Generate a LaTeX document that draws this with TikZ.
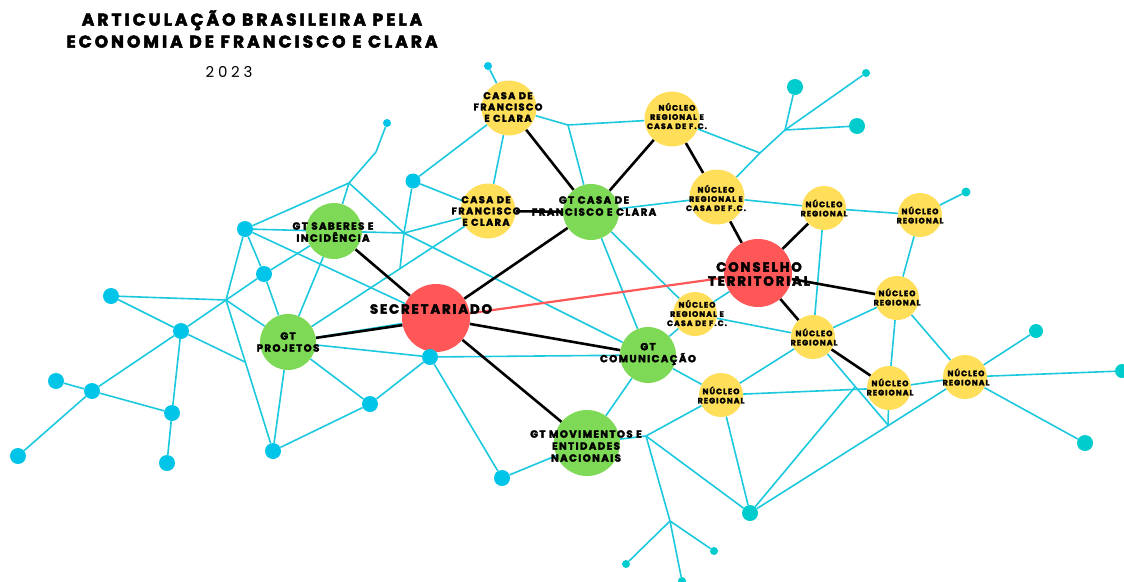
\documentclass[tikz,border=0pt]{standalone}
\usepackage{fontspec}
\setmainfont{Poppins}
\newfontfamily\lblfont{Poppins}[LetterSpace=14,BoldFeatures={FakeBold=3}]
\newfontfamily\titlefont{Poppins}[LetterSpace=18,BoldFeatures={FakeBold=3}]
\newfontfamily\yearfont{Poppins}[LetterSpace=25]
\usetikzlibrary{calc}
\definecolor{netcyan}{RGB}{28,200,222}
\definecolor{dotcyan}{RGB}{0,196,232}
\definecolor{dotteal}{RGB}{0,204,206}
\definecolor{gtgreen}{RGB}{126,217,87}
\definecolor{hubred}{RGB}{255,87,87}
\definecolor{nucyellow}{RGB}{255,222,89}
\pgfdeclarelayer{bg}
\pgfsetlayers{bg,main}
\tikzstyle{hubnode}=[circle,fill=hubred,minimum size=68pt,inner sep=0pt]
\tikzstyle{gtnode}=[circle,fill=gtgreen,minimum size=56pt,inner sep=0pt]
\tikzstyle{nucleo}=[circle,fill=nucyellow,minimum size=44pt,inner sep=0pt]
\tikzstyle{casa}=[circle,fill=nucyellow,minimum size=55pt,inner sep=0pt]
\tikzstyle{bluedot}=[circle,fill=dotcyan,minimum size=16pt,inner sep=0pt]
\tikzstyle{tealdot}=[circle,fill=dotteal,minimum size=16pt,inner sep=0pt]
\tikzstyle{netline}=[netcyan,line width=1.6pt]
\tikzstyle{tieline}=[black,line width=2.6pt]
\tikzstyle{redlink}=[hubred,line width=2.2pt]
\tikzstyle{biglbl}=[align=center,inner sep=0pt,font=\lblfont\bfseries\fontsize{13.3}{14}\selectfont]
\tikzstyle{gtlbl}=[align=center,inner sep=0pt,font=\lblfont\bfseries\fontsize{10.2}{12}\selectfont]
\tikzstyle{casalbl}=[align=center,inner sep=0pt,font=\lblfont\bfseries\fontsize{9.8}{11.3}\selectfont]
\tikzstyle{nuclbl}=[align=center,inner sep=0pt,font=\lblfont\bfseries\fontsize{7.8}{9.2}\selectfont]
\begin{document}
\begin{tikzpicture}[x=1pt,y=-1pt]
\useasboundingbox (0,0) rectangle (1124,581);

% title
\node[align=center,inner sep=0pt,font=\titlefont\bfseries\fontsize{17}{22}\selectfont] (title) at (252,29) {ARTICULAÇÃO BRASILEIRA PELA\\ECONOMIA DE FRANCISCO E CLARA};
\node[inner sep=0pt,font=\yearfont\fontsize{15}{18}\selectfont] (year) at (229,72) {2023};

% main circles
\node[hubnode] (sec) at (436,318) {};
\node[hubnode] (cons) at (758,273) {};
\node[gtnode] (gtcasa) at (591,212) {};
\node[gtnode] (gtsab) at (334,231) {};
\node[gtnode] (gtproj) at (288,342) {};
\node[gtnode] (gtcom) at (648,355) {};
\node[gtnode,minimum size=66pt] (gtmov) at (587,443) {};
\node[casa] (casa1) at (509,108) {};
\node[casa] (casa2) at (488,211) {};
\node[casa] (nrc1) at (672,119) {};
\node[casa] (nrc2) at (717,197) {};
\node[nucleo] (nrc3) at (695,314) {};
\node[nucleo] (nr1) at (824,208) {};
\node[nucleo] (nr2) at (920,215) {};
\node[nucleo] (nr3) at (897,298) {};
\node[nucleo] (nr4) at (813,337) {};
\node[nucleo] (nr5) at (721,395) {};
\node[nucleo] (nr6) at (889,388) {};
\node[nucleo] (nr7) at (965,377) {};

% labels
\node[biglbl] (seclbl) at (431,309) {SECRETARIADO};
\node[biglbl] (conslbl) at (759,274) {CONSELHO\\TERRITORIAL};
\node[gtlbl] (gtcasalbl) at (594,206) {GT CASA DE\\FRANCISCO E CLARA};
\node[gtlbl] (gtsablbl) at (333,232) {GT SABERES E\\INCIDÊNCIA};
\node[gtlbl] (gtprojlbl) at (288,342) {GT\\PROJETOS};
\node[gtlbl] (gtcomlbl) at (648,354) {GT\\COMUNICAÇÃO};
\node[gtlbl] (gtmovlbl) at (586,446) {GT MOVIMENTOS E\\ENTIDADES\\NACIONAIS};
\node[casalbl] (casa1lbl) at (508,107) {CASA DE\\FRANCISCO\\E CLARA};
\node[casalbl] (casa2lbl) at (486,211) {CASA DE\\FRANCISCO\\E CLARA};
\node[nuclbl] (nrc1lbl) at (677,116) {NÚCLEO\\REGIONAL E\\CASA DE F.C.};
\node[nuclbl] (nrc2lbl) at (716,198) {NÚCLEO\\REGIONAL E\\CASA DE F.C.};
\node[nuclbl] (nrc3lbl) at (697,313) {NÚCLEO\\REGIONAL E\\CASA DE F.C.};
\node[nuclbl] (nr1lbl) at (824,208) {NÚCLEO\\REGIONAL};
\node[nuclbl] (nr2lbl) at (920,215) {NÚCLEO\\REGIONAL};
\node[nuclbl] (nr3lbl) at (897,297) {NÚCLEO\\REGIONAL};
\node[nuclbl] (nr4lbl) at (814,337) {NÚCLEO\\REGIONAL};
\node[nuclbl] (nr5lbl) at (721,395) {NÚCLEO\\REGIONAL};
\node[nuclbl] (nr6lbl) at (890,387) {NÚCLEO\\REGIONAL};
\node[nuclbl] (nr7lbl) at (966,377) {NÚCLEO\\REGIONAL};

% dots
\node[bluedot] (dsab) at (245,229) {};
\node[bluedot] (dmid) at (264,274) {};
\node[bluedot] (dfar) at (111,296) {};
\node[bluedot] (dhub) at (181,331) {};
\node[bluedot] (dleft) at (56,381) {};
\node[bluedot] (dlow) at (92,391) {};
\node[bluedot] (dbot) at (172,413) {};
\node[bluedot] (dcorner) at (18,456) {};
\node[bluedot] (dfoot) at (167,463) {};
\node[bluedot] (dproj) at (273,451) {};
\node[bluedot] (dmov) at (370,404) {};
\node[bluedot] (dsec) at (430,357) {};
\node[bluedot] (dgt) at (502,478) {};
\node[bluedot,minimum size=15pt] (dcasa) at (413,181) {};
\node[bluedot,minimum size=8pt] (dtopl) at (387,123) {};
\node[bluedot,minimum size=8pt] (dtop) at (488,66) {};
\node[tealdot] (dpin) at (750,513) {};
\node[tealdot] (dne1) at (795,87) {};
\node[tealdot] (dne2) at (857,126) {};
\node[tealdot,minimum size=8pt] (dne3) at (866,73) {};
\node[tealdot,minimum size=9pt] (dnr2) at (966,192) {};
\node[tealdot,minimum size=14pt] (dr1) at (1036,331) {};
\node[tealdot] (dr2) at (1085,443) {};
\node[tealdot,minimum size=14pt] (dr3) at (1122,371) {};
\node[tealdot,minimum size=8pt] (db1) at (626,564) {};
\node[tealdot,minimum size=8pt] (db2) at (714,551) {};
\node[tealdot,minimum size=8pt] (db3) at (682,581) {};

% junctions
\coordinate (jsab) at (349,183);
\coordinate (jtop) at (376,152);
\coordinate (xa) at (404,233);
\coordinate (xb) at ($(gtproj)!0.56!(casa2)$);
\coordinate (jl1) at (226,300);
\coordinate (jl2) at (245,362);
\coordinate (jt) at (568,125);
\coordinate (jne1) at (760,153);
\coordinate (jne2) at (785,130);
\coordinate (jr) at (855,387);
\coordinate (jq) at (888,425);
\coordinate (js) at (646,436);
\coordinate (ju) at (670,521);

\begin{pgfonlayer}{bg}
\path[netline] (dsab) edge (jsab) (jsab) edge (jtop) (jtop) edge (dtopl)
   (jsab) edge (gtsab) (jsab) edge (xa) (dsab) edge (xa) (xa) edge (casa2)
   (dcasa) edge (xa) (xa) edge (xb) (gtproj) edge (casa2)
   (dsab) edge (dmid) (dsab) edge (jl1) (dhub) edge (dmid) (dmid) edge (gtsab)
   (dmid) edge (gtproj) (jl1) edge (dfar) (dfar) edge (dhub) (dhub) edge (dlow)
   (dhub) edge (dbot) (dlow) edge (dleft) (dlow) edge (dbot) (dlow) edge (dcorner)
   (dbot) edge (dfoot) (jl1) edge (dproj) (dhub) edge (jl2) (jl1) edge (gtproj)
   (dproj) edge (gtproj) (dproj) edge (dmov) (dmov) edge (gtproj) (dmov) edge (dsec)
   (gtproj) edge (dsec) (dsec) edge (gtcom) (dsec) edge (dgt) (dgt) edge (gtmov)
   (gtsab) edge (gtproj) (dsab) edge (sec) (gtproj) edge (sec) (xa) edge (gtcom);
\path[netline] (dtop) edge (casa1) (dcasa) edge (casa1) (casa1) edge (casa2)
   (casa1) edge (jt) (jt) edge (nrc1) (jt) edge (gtcasa) (dcasa) edge (casa2)
   (gtcasa) edge (nrc2) (gtcasa) edge (gtcom) (gtcasa) edge (nrc3)
   (nrc1) edge (jne1) (nrc2) edge (jne1) (jne1) edge (jne2) (jne2) edge (dne1)
   (jne2) edge (dne2) (jne2) edge (dne3) (nrc2) edge (nr1) (nr1) edge (nr2)
   (nr2) edge (dnr2) (nr2) edge (nr3) (nr1) edge (nr4) (nr3) edge (nr4)
   (nr3) edge (nr6) (nr3) edge (nr7) (nrc3) edge (cons) (nrc3) edge (gtcom)
   (nrc3) edge (nr4) (nr4) edge (nr5) (nr4) edge (jq) (nr6) edge (jq)
   (dpin) edge (nr7) (nr5) edge (nr6) (nr6) edge (nr7) (nr7) edge (dr3)
   (nr7) edge (dr1) (nr7) edge (dr2) (jr) edge (dpin) (nr5) edge (dpin)
   (nr5) edge (gtcom) (nr5) edge (js) (js) edge (gtmov) (js) edge (dpin)
   (js) edge (ju) (ju) edge (db1) (ju) edge (db2) (ju) edge (db3)
   (gtcom) edge (gtmov);
\path[tieline] (sec) edge (gtsab) (sec.192) edge (gtproj) (sec) edge (gtcasa)
   (sec) edge (gtcom) (sec) edge (gtmov) (gtcasa) edge (casa1) (gtcasa) edge (casa2)
   (gtcasa) edge (nrc1) (nrc1) edge (nrc2) (nrc2) edge (cons) (cons) edge (nr1)
   (cons) edge (nr3) (cons) edge (nr4) (nr4) edge (nr6);
\path[redlink] (sec) edge (cons);
\end{pgfonlayer}
\end{tikzpicture}
\end{document}
